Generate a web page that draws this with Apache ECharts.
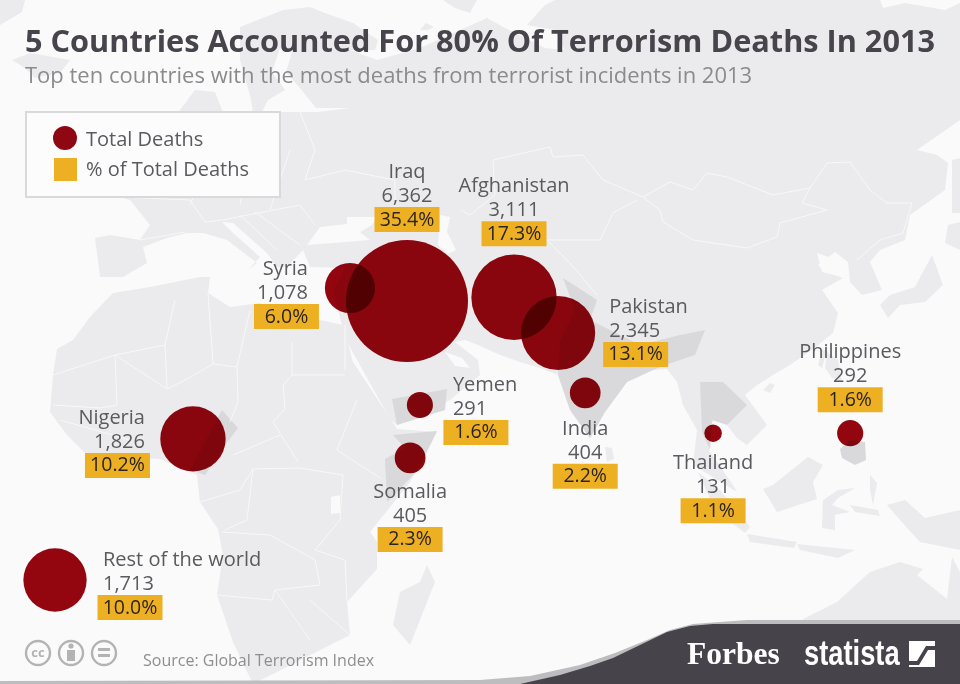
<!DOCTYPE html>
<html><head><meta charset="utf-8">
<style>html,body{margin:0;padding:0;background:#fafafb}#c{width:960px;height:684px}</style>
<script src="https://cdn.jsdelivr.net/npm/echarts@6/dist/echarts.min.js"></script>
</head><body><div id="c"></div>
<script>
// ---- chart data ----
const countries = ['Iraq','Afghanistan','Pakistan','Nigeria','Rest of the world','Syria','Somalia','India','Philippines','Yemen','Thailand'];
const deaths    = [6362,3111,2345,1826,1713,1078,405,404,292,291,131];
const shares    = [35.4,17.3,13.1,10.2,10.0,6.0,2.3,2.2,1.6,1.6,1.1];
const lon       = [45.66,64.24,71.9,8.5,-15.45,35.76,46.2,76.6,122.6,47.9,98.8];
const lat       = [32.74,33.4,27.2,8.8,-15.7,35,5.5,16.8,9.8,14.7,9.8];
// label layout, same order as countries: [text anchor, text dx, name dy, box dx]
const labelLayout = [
 ['center',0,-130,0],['center',0,-112,0],['left',51,-27,77.5],['right',-48,-22,-75.5],
 ['left',48,-21,75],['right',-42,-20,-63.5],['center',0,33,0],['center',0,35,0],
 ['center',0,-82,0],['left',33,-21,56],['center',0,29,0]];

// ---- decorative base map (screen outlines, not data) ----
const LAND='#ebebed', HILITE='#d9d9db', SEA='#fafafb', LINE='#f8f8f9';
const landShapes=[
 [[0,0],[25,0],[22,12],[0,25]],
 [[12,60],[30,53],[70,60],[60,73],[35,78],[25,68]],
 [[180,110],[195,90],[215,92],[222,110],[222,125],[180,125]],
 [[443,0],[477,0],[470,13],[455,8]],
 [[420,30],[426,23],[434,27],[428,30]],
 // Eurasia
 [[95,238],[110,235],[140,240],[150,225],[130,200],[120,197],[120,170],[190,150],[205,125],[253,112],[250,95],[240,60],[240,27],[283,10],[310,7],[325,13],[353,23],[378,40],[375,50],[350,50],[377,60],[420,48],[487,18],[505,28],[545,48],[565,50],[555,30],[527,25],[545,5],[555,0],[880,0],[883,8],[905,3],[945,10],[960,3],[960,120],[917,150],[937,155],[948,163],[945,190],[910,215],[905,240],[880,250],[870,262],[882,290],[862,295],[850,282],[848,262],[835,252],[818,265],[825,272],[843,278],[822,290],[838,313],[833,333],[813,349],[790,365],[773,375],[757,385],[745,395],[767,425],[747,445],[737,438],[727,425],[717,417],[705,432],[707,442],[710,452],[733,485],[737,492],[693,465],[697,430],[683,405],[677,382],[667,369],[653,370],[627,382],[605,412],[590,438],[570,410],[558,375],[540,368],[520,362],[500,355],[478,345],[465,340],[455,342],[478,360],[480,375],[450,400],[397,425],[390,419],[347,342],[340,318],[333,290],[345,268],[310,267],[303,250],[287,267],[277,267],[267,253],[233,223],[222,222],[233,233],[260,257],[248,270],[257,263],[227,240],[203,233],[187,233],[167,238],[143,247],[147,263],[123,277],[100,277]],
 // Africa
 [[113,293],[150,287],[200,277],[210,277],[208,293],[230,307],[260,303],[287,317],[320,320],[343,325],[353,362],[397,429],[437,432],[410,482],[370,532],[377,542],[377,569],[347,602],[350,635],[253,684],[233,642],[217,595],[223,555],[218,529],[200,502],[197,475],[160,459],[87,455],[67,435],[50,412],[53,375],[57,349],[73,340],[90,317]],
 // Madagascar, Japan, Sakhalin, Hokkaido
 [[427,565],[435,582],[410,645],[393,625],[400,592],[420,582]],
 [[880,305],[890,295],[915,287],[932,255],[943,285],[925,302],[900,305],[888,318]],
 [[952,160],[960,158],[960,213],[952,213]],
 [[948,225],[960,222],[960,250],[945,243]],
 // Hainan, Sri Lanka, Taiwan, Luzon
 [[763,390],[770,383],[775,385],[770,393]],
 [[605,447],[612,448],[614,459],[607,462]],
 [[822,350],[827,350],[822,368],[818,365]],
 [[827,352],[838,360],[842,382],[832,378],[825,368]],
 // Borneo, Sumatra, Java, Sulawesi
 [[763,489],[773,485],[808,457],[823,465],[813,482],[817,499],[777,512]],
 [[698,472],[720,490],[750,527],[745,533],[715,510]],
 [[747,534],[797,542],[794,548],[750,542]],
 [[797,544],[855,550],[838,558],[800,550]],
 [[823,500],[838,490],[855,488],[838,498],[832,505],[850,512],[835,515],[835,530],[822,528]],
 [[850,505],[878,510],[880,516],[855,512]],
 [[870,475],[877,483],[873,505],[870,490]],
 // New Guinea, Australia
 [[887,505],[905,500],[925,518],[960,510],[960,550],[920,542],[900,520]],
 [[803,619],[837,602],[870,572],[900,562],[923,569],[917,575],[947,599],[952,557],[960,572],[960,640],[803,640]]
];
const seaShapes=[
 [[307,245],[320,227],[347,224],[347,217],[377,217],[372,225],[360,232],[370,240],[333,243]], // Black Sea
 [[440,215],[450,217],[447,232],[456,250],[448,254],[438,245]], // Caspian
 [[268,100],[285,90],[272,72],[280,48],[292,52],[286,72],[300,88],[316,108],[350,108],[318,112],[290,112],[262,112]], // Baltic
 [[445,352],[462,358],[470,368],[455,366]], // Persian Gulf
 [[817,253],[843,262],[835,275],[822,272]],
 [[331,497],[340,495],[340,513],[331,514]]
];
const hiliteShapes=[
 [[563,278],[597,300],[590,320],[640,345],[680,335],[705,330],[695,355],[665,365],[653,370],[627,382],[605,412],[590,438],[570,410],[558,375],[560,340],[575,310]], // India
 [[392,399],[447,389],[445,410],[397,425]], // Yemen
 [[393,435],[437,431],[418,470],[387,502],[385,459],[405,448]], // Somalia
 [[222,410],[238,428],[225,445],[205,475],[190,470]], // Nigeria
 [[700,382],[723,382],[747,405],[727,425],[712,420],[710,450],[702,432]], // Thailand
 [[840,449],[850,440],[865,442],[866,460],[855,465],[842,458]] // Philippines
];
const borderLines=[
 [[493,160],[550,147],[553,157],[583,155],[603,180],[643,197],[670,182],[693,190],[707,173],[727,177],[773,195],[810,188],[827,163],[850,162],[870,190],[887,203],[912,203],[903,233],[880,240],[857,260]],
 [[643,197],[660,210],[663,222],[693,240],[747,248],[777,237],[780,223],[827,210],[802,203],[810,188]],
 [[637,200],[613,213],[600,240],[547,240],[570,263],[597,295]],
 [[493,160],[495,195],[470,215],[460,210]],
 [[300,112],[315,150],[305,180],[345,170],[395,180],[395,215],[440,215]],
 [[120,197],[190,200],[205,222],[222,220],[300,205],[315,225]],
 [[190,205],[205,170]],[[240,205],[250,150],[253,125]],[[270,210],[290,150]],[[240,215],[277,250]],[[255,212],[300,245]],
 [[140,240],[185,232]],
 [[115,355],[117,405]],[[115,355],[167,389],[187,379],[213,364],[237,367],[238,402],[230,422]],
 [[292,342],[292,375],[283,385],[285,409],[273,422],[298,462]],[[233,455],[280,435]],
 [[253,469],[300,468],[343,475],[340,520]],[[292,375],[345,375]],[[357,400],[337,450],[380,478]],
 [[200,502],[240,490],[253,469],[247,520],[225,530]],
 [[222,532],[270,535],[315,560],[320,585],[275,590],[272,600],[217,595]],
 [[340,520],[315,550],[345,560],[347,602]],[[275,590],[310,640]],[[310,600],[350,635]],
 [[165,345],[115,355],[53,375]],[[175,300],[165,345],[167,389]],[[208,293],[213,364]],[[250,310],[237,367]],[[345,325],[345,370]],
 [[53,405],[100,408],[117,405]],[[60,420],[130,440]]
];
const poly=(p,fill,z)=>({type:'polygon',z:z,silent:true,shape:{points:p},style:{fill:fill}});
const line=(p,c,w,z)=>({type:'polyline',z:z,silent:true,shape:{points:p},style:{stroke:c,lineWidth:w,fill:null}});
const txt=(x,y,t,font,fill,align,extra)=>Object.assign({type:'text',z:20,silent:true,x:x,y:y,style:{text:t,font:font,fill:fill,align:align||'left',verticalAlign:'middle'}},extra||{});
const OS='"Open Sans"';
const RED='#96060f', ORANGE='#eeb023';

const graphic=[
 ...landShapes.map(p=>poly(p,LAND,0)),
 ...seaShapes.map(p=>poly(p,SEA,0)),
 ...hiliteShapes.map(p=>poly(p,HILITE,0)),
 ...borderLines.map(p=>line(p,LINE,1,0)),
 // title
 txt(25,43,'5 Countries Accounted For 80% Of Terrorism Deaths In 2013','bold 30.7px '+OS,'#47444c'),
 txt(25,77,'Top ten countries with the most deaths from terrorist incidents in 2013','22px '+OS,'#8b8b8e'),
 // legend
 {type:'rect',z:15,silent:true,shape:{x:26,y:112,width:254,height:85},style:{fill:'#fcfcfd',stroke:'#d9d9dc',lineWidth:2}},
 {type:'circle',z:16,silent:true,shape:{cx:65,cy:138,r:12},style:{fill:'#8f0712'}},
 {type:'rect',z:16,silent:true,shape:{x:54,y:158,width:23,height:23},style:{fill:ORANGE}},
 txt(86,140,'Total Deaths','20px '+OS,'#5a5a5f'),
 txt(86,170,'% of Total Deaths','20px '+OS,'#5a5a5f'),
 // source & cc
 txt(143,661,'Source: Global Terrorism Index','16px '+OS,'#8e8e8e'),
 ...[38,71,104].map(cx=>({type:'circle',z:16,silent:true,shape:{cx:cx,cy:653,r:12},style:{fill:'#fafafb',stroke:'#b3b3b3',lineWidth:2.4}})),
 txt(38,653,'cc','bold 13px '+OS,'#b3b3b3','center'),
 {type:'circle',z:17,silent:true,shape:{cx:71,cy:646,r:2.6},style:{fill:'#b3b3b3'}},
 {type:'rect',z:17,silent:true,shape:{x:67,y:650,width:8,height:11},style:{fill:'#b3b3b3'}},
 {type:'rect',z:17,silent:true,shape:{x:98,y:648,width:12,height:3},style:{fill:'#b3b3b3'}},
 {type:'rect',z:17,silent:true,shape:{x:98,y:654,width:12,height:3},style:{fill:'#b3b3b3'}},
 // footer band
 poly([[0,684],[0,681],[480,680],[530,676],[580,665],[615,653],[647,640],[670,630],[693,624],[747,620],[960,620],[960,684]],'#bdbdbf',18),
 poly([[520,684],[560,675],[590,666],[613,658],[640,645],[667,632],[690,626],[713,624],[960,624],[960,684]],'#46434a',19),
 txt(687,656,'Forbes','bold 31.5px "Liberation Serif"','#ffffff'),
 txt(804,655,'statista','bold 35px "Liberation Sans"','#ffffff','left',{scaleX:0.78}),
 {type:'rect',z:20,silent:true,shape:{x:909,y:641,width:26,height:26},style:{fill:'#ffffff'}},
 poly([[909,661],[917,661],[926,646],[935,646],[935,650],[928,650],[919,665],[909,665]],'#46434a',21)
];

const option={
 animation:false,
 backgroundColor:'#fafafb',
 grid:{left:0,right:0,top:0,bottom:0},
 xAxis:{type:'value',min:-25,max:141.667,show:false},
 yAxis:{type:'value',min:-33.75,max:85,show:false},
 graphic:graphic,
 series:[
  {type:'scatter',z:5,blendMode:'multiply',silent:true,
   symbolSize:(v,p)=>2*0.765*Math.sqrt(deaths[p.dataIndex]),
   itemStyle:{color:RED,opacity:1},
   data:countries.map((c,i)=>[lon[i],lat[i]])},
  {type:'custom',z:6,silent:true,coordinateSystem:'cartesian2d',clip:false,
   data:countries.map((c,i)=>[lon[i],lat[i]]),
   encode:{x:0,y:1},
   renderItem:(params,api)=>{
     const i=params.dataIndex, pt=api.coord([api.value(0),api.value(1)]);
     const L=labelLayout[i], tx=pt[0]+L[1], ny=pt[1]+L[2]+1, bx=pt[0]+L[3];
     const mk=(t,x,y,font,fill,a)=>({type:'text',x:x,y:y,style:{text:t,font:font,fill:fill,align:a,verticalAlign:'middle'}});
     return {type:'group',children:[
       mk(countries[i],tx,ny,'20px '+OS,'#5a5a5f',L[0]),
       mk(deaths[i].toLocaleString('en-US'),tx,ny+24,'20px '+OS,'#5a5a5f',L[0]),
       {type:'rect',shape:{x:bx-32.5,y:ny+35,width:65,height:25},style:{fill:ORANGE}},
       mk(shares[i].toFixed(1)+'%',bx,ny+48,'19.5px '+OS,'#2c2420','center')
     ]};
   }}
 ]
};
const chart=echarts.init(document.getElementById('c'),null,{renderer:'canvas'});
chart.setOption(option);
</script></body></html>
